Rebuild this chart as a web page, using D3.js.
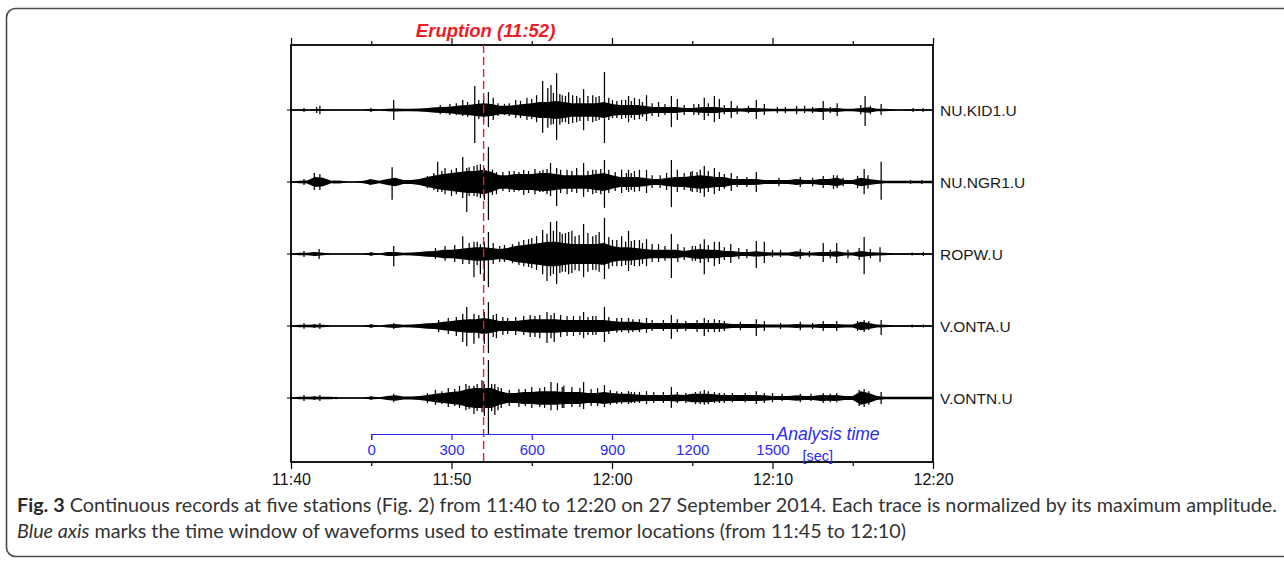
<!DOCTYPE html>
<html><head><meta charset="utf-8">
<script src="https://cdn.jsdelivr.net/npm/d3@7"></script>
<style>body{margin:0;background:#fff}svg{display:block}</style>
</head><body>
<svg id="c" width="1284" height="561"></svg>
<script>
// ---- data ----
const stations = ["NU.KID1.U","NU.NGR1.U","ROPW.U","V.ONTA.U","V.ONTN.U"];
const timeTickMinutes = [0,10,20,30,40];           // minutes after 11:40
const timeTickLabels = ["11:40","11:50","12:00","12:10","12:20"];
const minorTickMinutes = [5,15,25,35];
const eruptionMinute = 12;                           // 11:52
const eruptionLabel = "Eruption (11:52)";
const analysisStartMinute = 5, analysisEndMinute = 30;   // 11:45 - 12:10
const analysisTicks = [0,300,600,900,1200,1500];     // seconds
// envelope half-amplitude (% of trace maximum), sampled every 30 s from 11:40
const envStepMinutes = 0.5;
const kid1Env = [1,2,1,2,2,1,1,1,1,1, 3,1,3,4,3,3,4,5,7,8, 9,12,13,16,18,16,11,11,13,16, 18,21,21,24,21,18,18,18,18,21, 16,13,13,13,11,8,8,8,8,5, 5,7,8,8,5,5,4,5,5,4, 3,3,3,3,3,4,5,4,5,3, 3,5,7,3,3,2,1,2,2,2, 1];
const ngr1Env = [1,3,4,13,11,3,4,1,1,3, 7,3,8,11,5,5,8,13,18,21, 24,26,29,29,32,26,18,18,21,21, 21,24,24,21,18,18,18,18,21,24, 18,13,13,13,11,8,8,11,13,13, 16,18,16,13,13,8,8,8,8,5, 5,5,5,8,5,5,8,8,11,5, 5,11,8,5,3,3,3,3,3,3, 3];
const ropwEnv = [1,3,3,5,3,1,1,1,1,1, 4,1,5,5,3,4,5,7,8,11, 11,13,16,18,18,16,13,16,21,24, 26,29,32,32,29,26,26,26,26,29, 21,18,18,16,13,11,11,11,11,8, 11,13,11,11,8,8,5,5,7,5, 4,4,4,7,4,4,5,5,7,4, 4,8,5,4,3,2,2,2,2,2, 1];
const ontaEnv = [1,3,3,4,3,1,1,1,1,1, 4,1,4,5,3,4,5,7,8,11, 13,16,18,18,21,18,13,13,13,16, 18,18,18,18,16,16,16,16,16,16, 13,11,11,11,8,8,8,8,8,7, 8,8,8,8,7,5,5,5,5,4, 4,4,4,5,4,4,5,5,5,4, 4,11,8,4,3,2,2,2,2,2, 1];
const ontnEnv = [1,3,3,4,3,3,1,1,1,1, 4,2,5,7,4,4,5,8,11,13, 16,18,24,26,26,26,18,13,13,16, 16,18,18,18,16,16,16,13,13,16, 13,11,11,9,8,8,8,8,9,8, 11,11,11,9,8,8,8,8,8,7, 5,5,5,7,5,5,8,7,8,5, 5,18,13,5,3,3,3,3,3,3, 3];
// individual peaks: [minute after 11:40, upward %, downward %]
const kid1Peaks = [[0.81,5,5],[1.6,8,8],[1.8,11,11],[4.98,5,5],[6.4,26,26],[10.7,26,16],[11.45,63,87],[12.0,37,32],[12.3,47,45],[12.6,32,26],[14.0,26,21],[14.7,32,26],[15.68,76,60],[16.0,58,47],[16.2,66,39],[16.55,97,79],[16.9,39,32],[17.3,47,37],[17.8,37,32],[18.23,55,53],[18.8,39,32],[19.2,37,26],[19.53,100,87],[20.03,26,21],[20.6,26,24],[21.03,37,32],[21.4,32,26],[21.71,29,24],[22.15,39,29],[22.9,21,18],[23.7,37,45],[24.07,29,26],[25.1,16,13],[25.75,32,26],[26.38,37,32],[26.69,29,24],[27.43,24,21],[28.99,26,24],[29.49,16,13],[31.5,11,11],[32.0,11,8],[33.16,24,26],[34.03,18,16],[35.77,37,42],[36.77,16,13],[38.76,5,5],[39.38,5,5],
  [9.3,13,11],[9.9,16,13],[10.3,18,13],[11.0,21,18],[11.7,26,24],[12.9,18,16],[13.3,16,13],[13.6,18,16],[14.3,24,21],[15.0,29,24],[15.3,39,32],[16.35,45,37],[16.75,42,39],[17.1,37,32],[17.55,39,34],[18.0,32,29],[18.5,37,29],[19.0,34,29],[19.8,32,26],[20.3,24,21],[20.85,26,21],[21.2,24,21],[21.9,21,18],[22.5,18,16],[23.3,16,13],[24.5,13,13],[25.4,16,13],[26.0,18,16],[27.0,13,11],[27.8,11,11],[28.5,11,8],[30.3,8,8],[30.8,8,8],[32.5,8,8],[33.6,8,8],[35.5,13,11],[36.1,11,11]];
const ngr1Peaks = [[0.81,8,8],[1.45,24,21],[1.8,21,21],[2.7,4,4],[4.9,8,8],[6.3,39,47],[8.5,16,16],[9.14,53,26],[9.6,37,32],[10.0,32,37],[10.7,66,42],[10.95,37,79],[11.4,42,37],[11.8,47,42],[12.05,37,47],[12.3,92,100],[12.8,26,32],[13.6,29,26],[14.5,32,34],[15.2,34,32],[15.7,32,26],[16.17,50,37],[16.55,37,63],[17.2,32,32],[17.8,37,29],[18.23,50,39],[18.8,32,32],[19.53,58,68],[20.6,32,29],[21.03,32,26],[21.4,29,26],[21.71,32,24],[22.15,32,29],[23.7,58,66],[24.07,32,26],[24.9,26,24],[25.3,26,26],[25.75,42,39],[26.38,37,32],[26.69,26,24],[27.43,24,24],[28.99,26,26],[31.73,13,13],[33.16,16,16],[33.8,18,18],[34.03,18,16],[35.71,34,32],[36.77,53,47],[38.6,5,5],[39.3,5,5],
  [8.9,24,21],[9.4,29,26],[10.3,37,32],[11.1,39,37],[11.6,45,39],[12.55,32,34],[13.2,26,24],[13.9,29,26],[14.2,26,24],[14.8,29,29],[15.5,29,26],[15.95,34,32],[16.8,32,29],[17.5,29,26],[18.5,29,26],[19.0,32,29],[19.3,34,32],[19.8,32,29],[20.2,26,24],[20.9,24,21],[21.2,24,21],[22.5,18,16],[23.0,18,16],[23.4,24,21],[24.5,24,21],[25.0,29,26],[25.5,32,29],[26.0,29,26],[27.0,21,18],[27.8,16,13],[28.4,13,13],[30.4,11,11],[32.5,11,11],[34.4,11,11],[35.3,16,16],[35.95,18,18]];
const ropwPeaks = [[0.81,8,8],[1.45,5,5],[1.75,13,13],[4.98,5,5],[6.4,21,32],[10.7,47,26],[11.4,32,61],[11.8,26,53],[12.05,32,71],[12.3,58,87],[13.0,21,21],[13.8,26,24],[14.5,37,32],[15.0,42,37],[15.68,63,53],[15.95,53,71],[16.17,84,58],[16.55,87,79],[16.9,53,47],[17.3,58,53],[17.7,47,42],[18.23,79,61],[18.8,47,42],[19.2,58,47],[19.53,95,66],[20.03,37,32],[20.6,47,32],[21.03,61,45],[21.4,37,32],[21.71,37,32],[22.15,39,32],[22.9,26,21],[23.7,53,63],[24.1,26,21],[25.2,21,18],[25.75,39,53],[26.38,32,32],[26.69,32,26],[27.4,26,24],[27.9,16,13],[28.99,34,37],[29.49,32,24],[30.5,11,8],[31.73,13,13],[33.16,29,21],[34.0,29,24],[34.7,11,11],[35.71,45,53],[36.7,18,21],[38.7,4,4],[39.4,5,5],
  [9.0,16,13],[9.6,21,18],[10.2,24,21],[11.1,29,26],[11.6,32,29],[12.6,29,26],[13.3,24,21],[14.2,32,29],[14.8,39,34],[15.3,47,42],[16.35,61,53],[16.75,58,50],[17.1,55,47],[17.5,61,50],[17.95,50,45],[18.5,55,47],[19.0,50,42],[19.8,45,39],[20.3,37,32],[20.85,32,29],[21.2,34,29],[21.9,29,26],[22.5,26,21],[23.3,21,18],[24.5,18,16],[25.0,21,18],[25.5,26,24],[26.0,24,21],[27.0,18,16],[28.4,13,11],[30.0,11,8],[32.3,8,8],[33.6,11,11],[35.4,16,16],[36.1,13,11]];
const ontaPeaks = [[0.81,7,7],[1.45,5,5],[1.8,8,8],[4.98,5,5],[6.4,8,8],[10.7,32,42],[10.95,50,53],[11.4,32,47],[12.05,37,47],[12.3,63,71],[12.8,32,32],[13.5,21,21],[14.5,26,24],[15.5,29,32],[15.95,37,45],[16.4,34,42],[17.2,26,26],[18.23,37,32],[18.8,26,24],[19.53,50,42],[20.6,21,16],[21.03,21,18],[21.71,18,16],[22.15,21,18],[23.7,29,34],[24.07,18,16],[25.75,21,26],[26.38,18,16],[26.69,16,16],[28.99,18,26],[29.49,13,13],[31.73,11,11],[33.16,13,13],[34.0,13,13],[35.71,16,16],[36.77,16,24],[38.7,4,4],[39.4,4,4],
  [9.2,16,16],[9.8,21,21],[10.3,24,26],[11.7,29,32],[12.6,29,29],[13.2,24,24],[14.0,24,24],[14.9,29,29],[15.2,26,29],[16.2,29,32],[16.8,29,29],[17.6,26,26],[18.0,26,24],[18.5,24,24],[19.0,26,24],[19.8,24,21],[20.3,21,18],[21.3,18,16],[22.5,16,13],[23.2,16,13],[24.6,13,13],[25.3,16,16],[26.0,16,16],[27.0,13,13],[28.0,11,11],[30.5,8,8],[32.5,8,8],[35.3,13,13],[36.0,13,11]];
const ontnPeaks = [[0.81,8,8],[1.45,5,5],[1.8,8,8],[2.8,3,3],[4.98,5,5],[6.4,11,11],[9.0,21,18],[9.8,26,24],[10.5,32,26],[10.9,37,32],[11.4,32,42],[11.9,47,37],[12.05,37,47],[12.3,100,95],[12.7,37,45],[13.1,26,26],[14.2,24,24],[15.0,29,26],[16.2,42,32],[16.6,39,32],[17.0,32,26],[18.23,42,29],[19.53,34,24],[20.6,16,16],[21.03,18,16],[21.4,16,13],[21.71,16,13],[22.15,18,16],[23.7,29,26],[24.07,16,13],[25.2,16,16],[25.75,21,18],[26.38,16,13],[26.69,13,13],[28.99,18,16],[29.49,13,13],[30.0,13,11],[31.73,11,11],[33.16,13,13],[34.0,13,11],[35.71,24,24],[36.77,16,16],
  [8.5,13,13],[9.4,18,16],[10.2,24,21],[11.1,32,29],[11.6,37,34],[12.5,37,34],[12.9,29,32],[13.6,21,21],[14.6,24,21],[15.5,26,24],[15.8,29,26],[16.9,29,26],[17.5,29,24],[18.0,26,24],[18.7,24,21],[19.1,26,21],[19.9,21,18],[20.3,18,16],[21.2,16,13],[22.6,16,13],[23.2,16,13],[24.6,13,13],[25.5,18,16],[26.0,18,16],[27.0,13,13],[27.5,13,11],[28.3,13,11],[30.6,11,8],[32.4,11,8],[33.6,11,11],[35.4,21,21],[36.0,18,18]];
const captionLine1Bold = "Fig. 3";
const captionLine1 = " Continuous records at five stations (Fig. 2) from 11:40 to 12:20 on 27 September 2014. Each trace is normalized by its maximum amplitude.";
const captionLine2Italic = "Blue axis";
const captionLine2 = " marks the time window of waveforms used to estimate tremor locations (from 11:45 to 12:10)";

// ---- drawing ----
const envs = [kid1Env, ngr1Env, ropwEnv, ontaEnv, ontnEnv];
const peaks = [kid1Peaks, ngr1Peaks, ropwPeaks, ontaPeaks, ontnPeaks];
const svg = d3.select("#c");
const F = "'Liberation Sans', Arial, Helvetica, sans-serif";
const box = {l:291, r:933, t:45, b:462};

svg.append("rect").attr("x",6.5).attr("y",8.5).attr("width",1290).attr("height",548)
  .attr("rx",9).attr("fill","none").attr("stroke","#4a4a4a").attr("stroke-width",1.6);

const x = d3.scaleLinear().domain([0,40]).range([box.l, box.r]);
const yRow = d3.scalePoint().domain(stations).range([110, 398]);
const amp = d3.scaleLinear().domain([-100,100]).range([38,-38]);

const plot = svg.append("g");
stations.forEach((s,i)=>{
  const g = plot.append("g").attr("transform",`translate(0,${yRow(s)})`);
  const ed = envs[i].map((v,j)=>({t:j*envStepMinutes, v}));
  g.append("line").attr("x1",x(0)).attr("x2",x(40)).attr("y1",0).attr("y2",0)
    .attr("stroke","#000").attr("stroke-width",1.4);
  g.append("path").datum(ed)
    .attr("d", d3.area().x(d=>x(d.t)).y0(d=>amp(-d.v)).y1(d=>amp(d.v)))
    .attr("fill","#000");
  g.selectAll("line.pk").data(peaks[i]).join("line").attr("class","pk")
    .attr("x1",d=>x(d[0])).attr("x2",d=>x(d[0]))
    .attr("y1",d=>amp(d[1])).attr("y2",d=>amp(-d[2]))
    .attr("stroke","#000").attr("stroke-width",1.25);
  g.append("line").attr("x1",box.l-4).attr("x2",box.l).attr("y1",0).attr("y2",0)
    .attr("stroke","#000").attr("stroke-width",1);
  svg.append("text").attr("x",box.r+7).attr("y",yRow(s)).attr("dy","0.36em")
    .attr("font-family",F).attr("font-size",15.5).attr("fill","#1a1a1a").text(s);
});

svg.append("rect").attr("x",box.l).attr("y",box.t).attr("width",box.r-box.l).attr("height",box.b-box.t)
  .attr("fill","none").attr("stroke","#000").attr("stroke-width",1.8);

const fmt = d=>timeTickLabels[timeTickMinutes.indexOf(d)];
const axB = svg.append("g").attr("transform",`translate(0,${box.b})`)
  .call(d3.axisBottom(x).tickValues(timeTickMinutes).tickFormat(fmt).tickSize(7).tickPadding(5));
const axBm = svg.append("g").attr("transform",`translate(0,${box.b})`)
  .call(d3.axisBottom(x).tickValues(minorTickMinutes).tickFormat("").tickSize(4));
const axT = svg.append("g").attr("transform",`translate(0,${box.t})`)
  .call(d3.axisTop(x).tickValues(timeTickMinutes).tickFormat("").tickSize(7));
const axTm = svg.append("g").attr("transform",`translate(0,${box.t})`)
  .call(d3.axisTop(x).tickValues(minorTickMinutes).tickFormat("").tickSize(4));
[axB,axBm,axT,axTm].forEach(a=>{
  a.select(".domain").remove();
  a.selectAll(".tick line").attr("stroke","#000").attr("stroke-width",1.2);
});
axB.selectAll("text").attr("font-family",F).attr("font-size",16).attr("fill","#111");

const red = "#ee1c25";
svg.append("line").attr("x1",x(eruptionMinute)).attr("x2",x(eruptionMinute))
  .attr("y1",box.t).attr("y2",box.b)
  .attr("stroke",red).attr("stroke-width",1.4).attr("stroke-dasharray","8,4");
svg.append("text").attr("x",x(eruptionMinute)+2).attr("y",37).attr("text-anchor","middle")
  .attr("font-family",F).attr("font-size",18.5).attr("font-weight","bold").attr("font-style","italic")
  .attr("fill",red).text(eruptionLabel);

const blue = "#2a2af5";
const sx = d3.scaleLinear().domain([0,1500]).range([x(analysisStartMinute), x(analysisEndMinute)]);
const axA = svg.append("g").attr("transform","translate(0,434)")
  .call(d3.axisBottom(sx).tickValues(analysisTicks).tickFormat(d3.format("d")).tickSize(6).tickSizeOuter(6).tickPadding(4));
axA.select(".domain").attr("stroke",blue).attr("stroke-width",1.2);
axA.selectAll(".tick line").attr("stroke",blue).attr("stroke-width",1.2);
axA.selectAll("text").attr("font-family",F).attr("font-size",15).attr("fill",blue);
svg.append("text").attr("x",sx(1500)+4).attr("y",440).attr("font-family",F).attr("font-size",17.5)
  .attr("font-style","italic").attr("fill",blue).text("Analysis time");
svg.append("text").attr("x",sx(1500)+30).attr("y",461).attr("font-family",F).attr("font-size",14.5)
  .attr("fill",blue).text("[sec]");

// caption (sized so that the last line ends where the reference's does, first line justified)
const CF = "Lato, 'Open Sans', sans-serif";
const c2 = svg.append("text").attr("x",17).attr("y",538).attr("font-family",CF).attr("font-size",17).attr("fill","#333");
c2.append("tspan").attr("font-style","italic").text(captionLine2Italic);
c2.append("tspan").text(captionLine2);
const fs = 17 * 889 / c2.node().getComputedTextLength();
c2.attr("font-size", fs.toFixed(2));
const c1 = svg.append("text").attr("x",17).attr("y",512).attr("font-family",CF).attr("font-size",fs.toFixed(2)).attr("fill","#333");
c1.append("tspan").attr("font-weight","bold").attr("fill","#2a2a2a").text(captionLine1Bold);
c1.append("tspan").text(captionLine1);
const natural = c1.node().getComputedTextLength();
const nSpaces = (captionLine1Bold+captionLine1).split(" ").length-1;
c1.attr("word-spacing", ((1277-17-natural)/nSpaces).toFixed(2)+"px");
</script>
</body></html>
